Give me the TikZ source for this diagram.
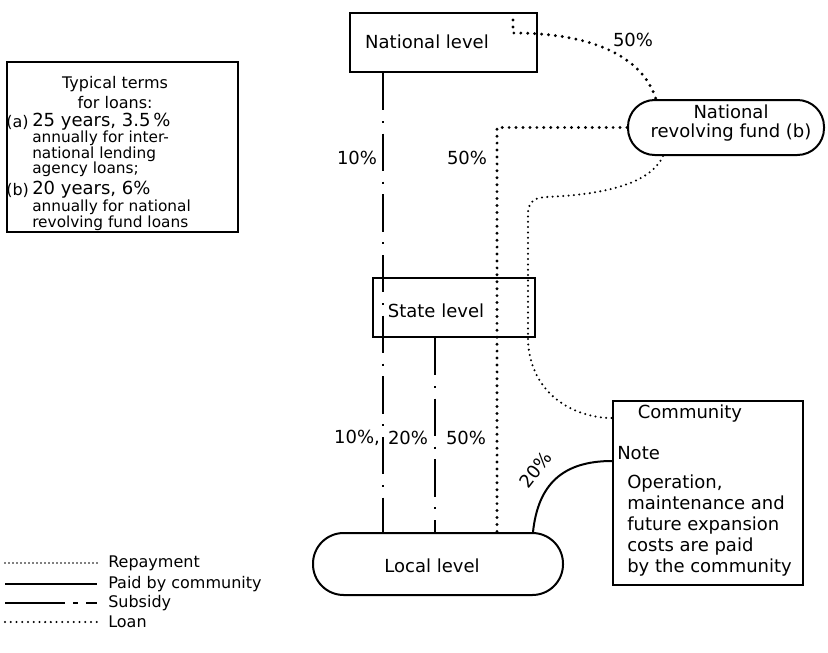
\documentclass[tikz,border=0pt]{standalone}
\usepackage{fontspec}
\setmainfont{DejaVu Sans}
\begin{document}
\begin{tikzpicture}[x=0.75pt,y=-0.75pt,
  box/.style={draw, line width=1.5pt, inner sep=0pt},
  lbl/.style={font=\fontsize{13.5}{14}\selectfont, inner sep=0pt},
  small/.style={font=\fontsize{11.5}{11.6}\selectfont, inner sep=0pt},
  big/.style={font=\fontsize{13.5}{14}\selectfont, inner sep=0pt, anchor=west},
  leg/.style={font=\fontsize{12}{13}\selectfont, inner sep=0pt, anchor=west},
  subsidy/.style={line width=1.2pt, dash pattern=on 28pt off 8pt on 1.5pt off 8pt},
  loan/.style={line width=2.4pt, line cap=round, dash pattern=on 0pt off 5.2pt},
  repay/.style={line width=1.7pt, line cap=round, dash pattern=on 0pt off 4pt},
  paid/.style={line width=1.5pt}]

\fill[white] (0,0) rectangle (828,653);
\path[use as bounding box] (0,0) rectangle (828,653);

% boxes
\node[box, minimum width=140.25pt, minimum height=44.25pt] (nat) at (443.5,42.5) {};
\node[box, rounded corners=20pt, minimum width=147pt, minimum height=41.25pt] (fund) at (726,127.5) {};
\node[box, minimum width=121.5pt, minimum height=44.25pt] (state) at (454,307.5) {};
\node[box, rounded corners=23pt, minimum width=187.5pt, minimum height=46.5pt] (local) at (438,564) {};
\node[box, minimum width=142.5pt, minimum height=138pt] (comm) at (708,493) {};
\node[box, minimum width=173.25pt, minimum height=127.5pt] (terms) at (122.5,147) {};

% box texts
\node[lbl] (natT) at (427,42) {National level};
\node[lbl, align=center] (fundT) at (731,123) {National\\revolving fund (b)};
\node[lbl] (stateT) at (436,311) {State level};
\node[lbl] (localT) at (432,566) {Local level};
\node[lbl] (commT) at (690,414) {Community};
\node[lbl, anchor=west] (noteT) at (617,453) {Note};
\node[lbl, font=\fontsize{13.5}{15.75}\selectfont, align=left, anchor=north west] (commB) at (627,475)
  {Operation,\\maintenance and\\future expansion\\costs are paid\\by the community};

\node[small, font=\fontsize{12}{15}\selectfont, align=center] (termsT) at (115,93) {Typical terms\\for loans:};
\node[big, font=\fontsize{12}{14}\selectfont] (aT) at (6,122) {(a)};
\node[big] (aH) at (32,122) {25 years, 3.5\,\%};
\node[small, align=left, anchor=north west] (aB) at (32,131)
  {annually for inter-\\national lending\\agency loans;};
\node[big, font=\fontsize{12}{14}\selectfont] (bT) at (6,190) {(b)};
\node[big] (bH) at (32,190) {20 years, 6\%};
\node[small, align=left, anchor=north west] (bB) at (32,200)
  {annually for national\\revolving fund loans};

% helper coordinates
\coordinate (xA) at (383,0);
\coordinate (xB) at (435,0);
\coordinate (xC) at (497,0);
\coordinate (xP) at (533,0);
\coordinate (xN) at (656,0);
\coordinate (xR) at (663,0);
\coordinate (yR) at (0,418);
\coordinate (yP) at (0,461);
\coordinate (n0) at (513,20);
\coordinate (n1) at (513,33);

% subsidy
\draw[subsidy] (nat.south -| xA) -- (local.north -| xA);
\draw[subsidy] (state.south -| xB) -- (local.north -| xB);

% loans
\draw[loan] (n0) -- (n1) .. controls (580,33) and (640,50) .. (fund.north -| xN);
\draw[loan] (fund.west) -- (fund.west -| xC) -- (local.north -| xC);

% repayment
\draw[repay] (fund.south -| xR) .. controls (650,185) and (600,195) .. (545,197)
  .. controls (531,198) and (528,205) .. (528,215) -- (528,340)
  .. controls (530,395) and (575,418) .. (comm.west |- yR);

% paid by community
\draw[paid] (local.north -| xP) .. controls (538,485) and (562,461) .. (comm.west |- yP);

% percentages
\node[lbl] (p1) at (357,158) {10\%};
\node[lbl] (p2) at (467,158) {50\%};
\node[lbl] (p3) at (633,40) {50\%};
\node[lbl] (p4) at (357,438) {10\%,};
\node[lbl] (p5) at (408,438) {20\%};
\node[lbl] (p6) at (466,438) {50\%};
\node[lbl, rotate=52] (p7) at (536,470) {20\%};

% legend
\coordinate (la1) at (5,563); \coordinate (lb1) at (97,563);
\coordinate (la2) at (5,584); \coordinate (lb2) at (97,584);
\coordinate (la3) at (5,603); \coordinate (lb3) at (97,603);
\coordinate (la4) at (5,622); \coordinate (lb4) at (97,622);
\draw[repay, line width=1.3pt, dash pattern=on 0pt off 3pt] (la1) -- (lb1);
\draw[line width=1.9pt] (la2) -- (lb2);
\draw[line width=1.7pt, dash pattern=on 45pt off 6pt on 4pt off 6pt] (la3) -- (lb3);
\draw[loan, line width=1.7pt, dash pattern=on 0pt off 4.3pt] (la4) -- (lb4);
\node[leg] (l1) at (108,563) {Repayment};
\node[leg] (l2) at (108,584) {Paid by community};
\node[leg] (l3) at (108,603) {Subsidy};
\node[leg] (l4) at (108,622) {Loan};
\end{tikzpicture}
\end{document}
